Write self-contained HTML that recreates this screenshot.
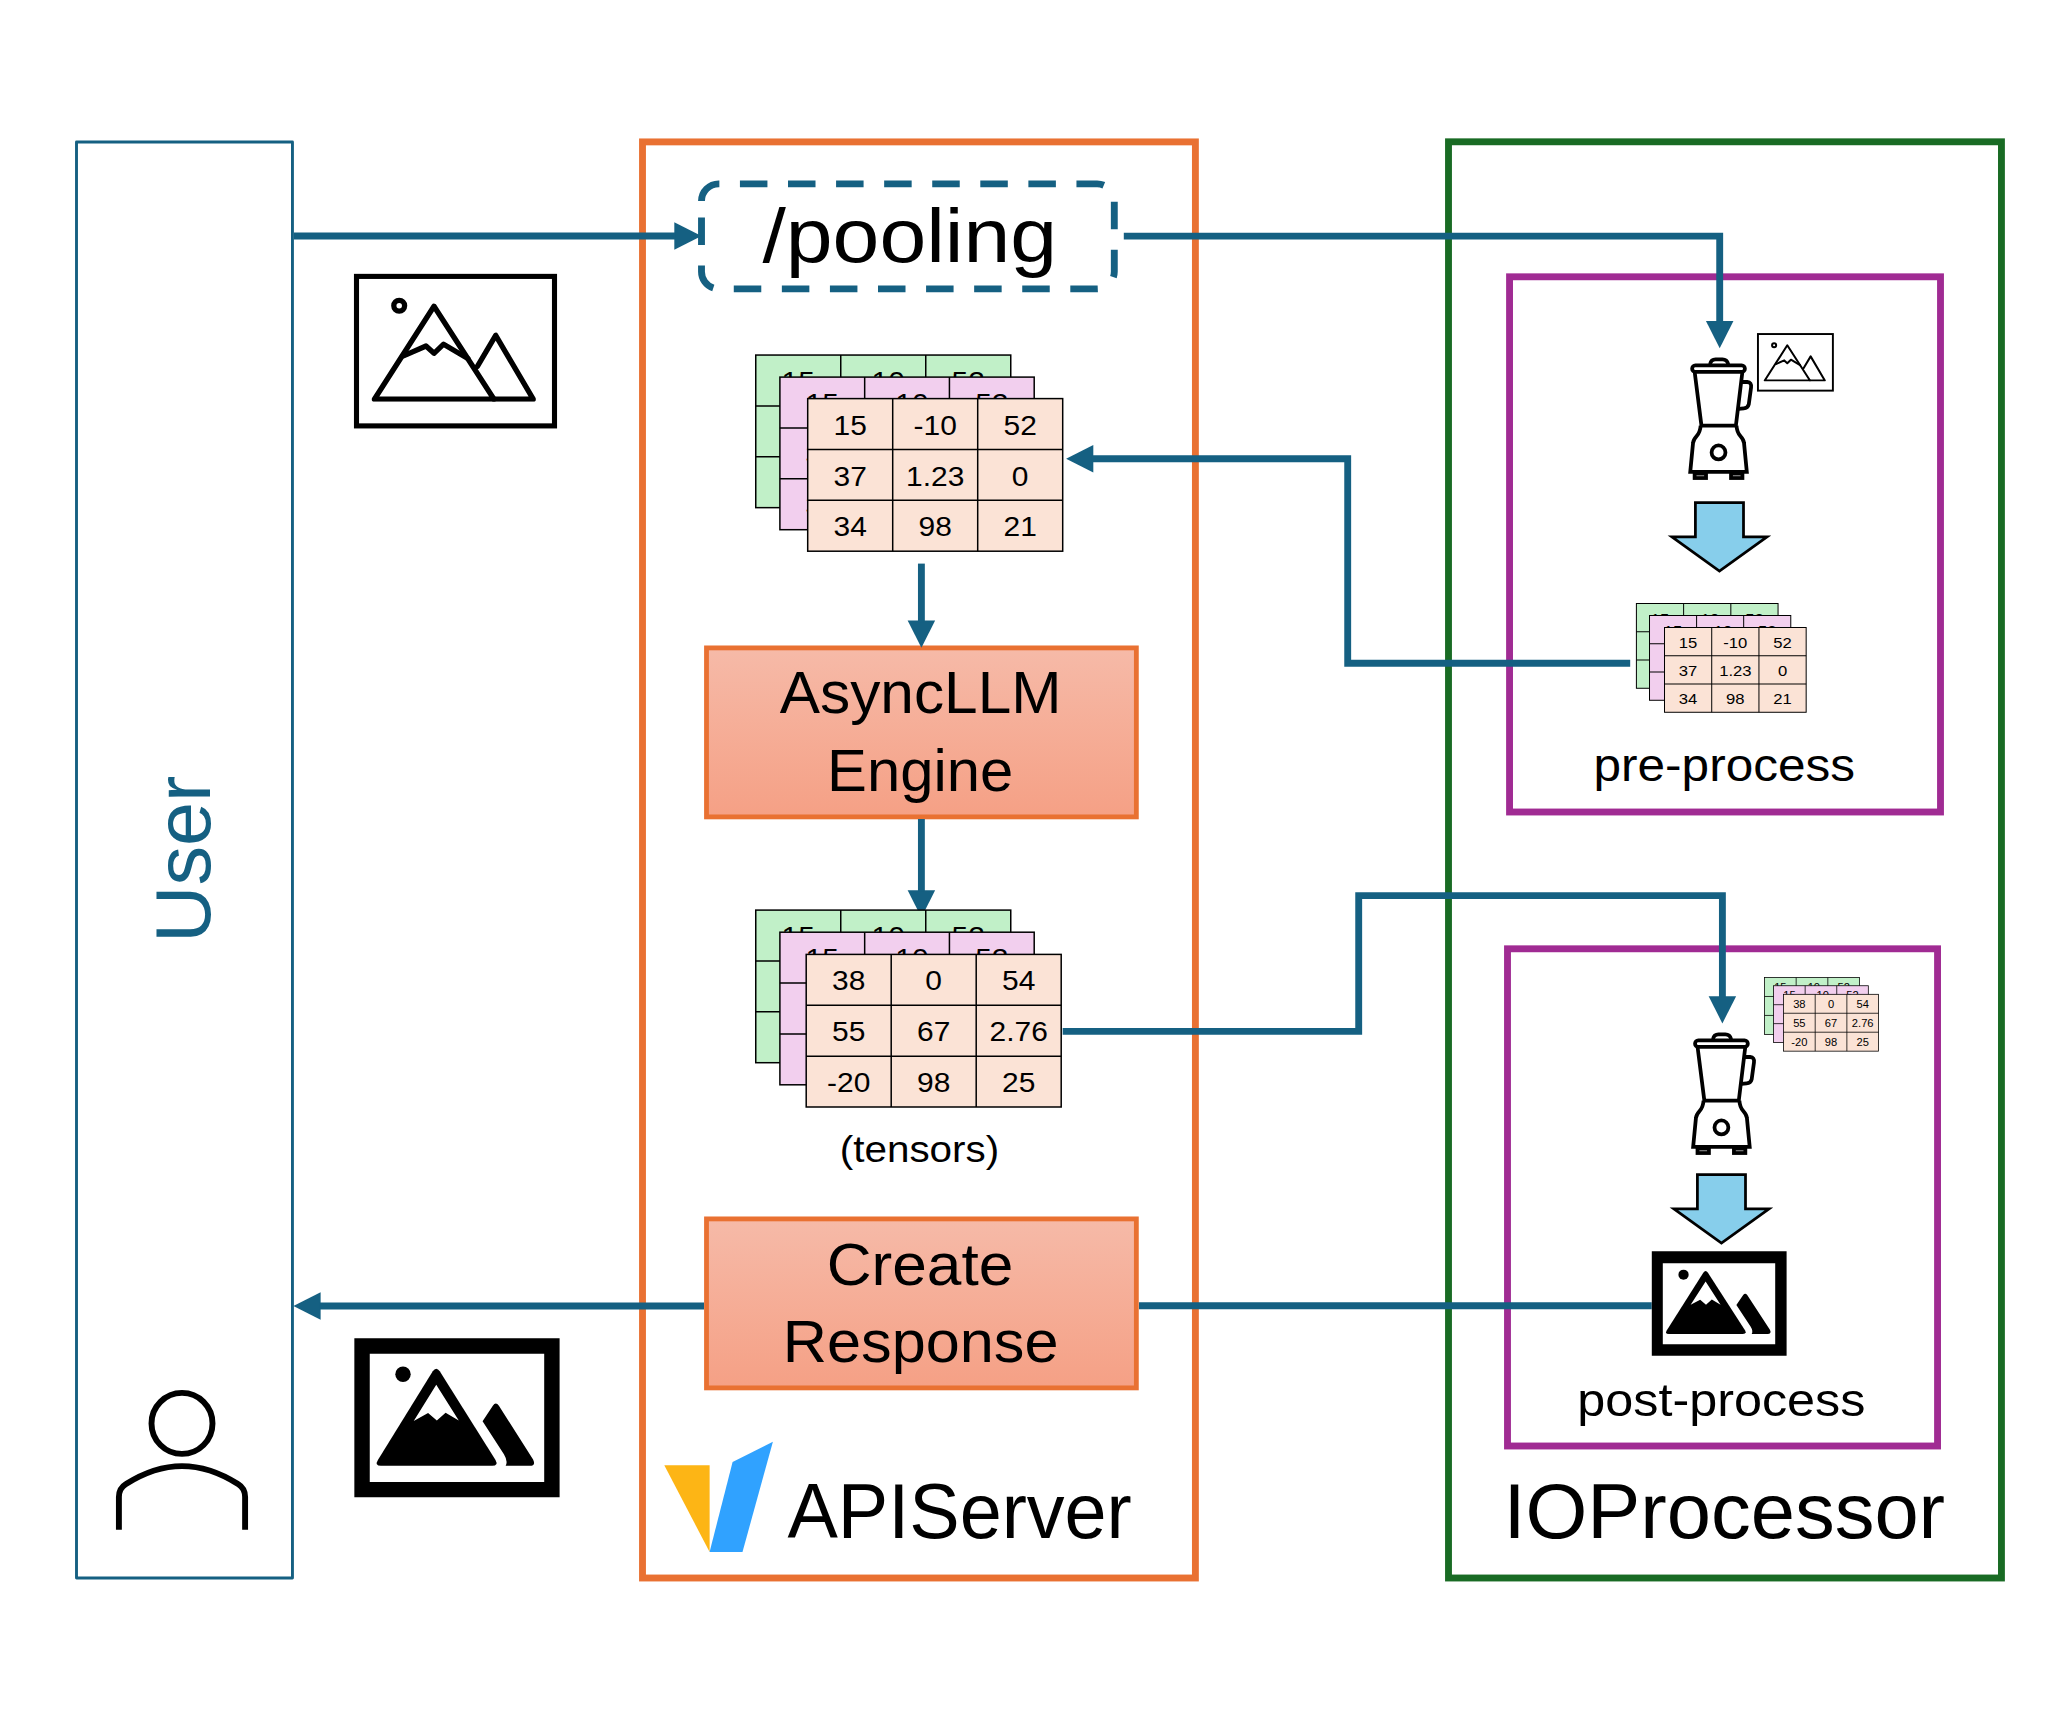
<!DOCTYPE html>
<html><head><meta charset="utf-8"><title>IOProcessor diagram</title>
<style>html,body{margin:0;padding:0;background:#fff}body{width:2057px;height:1714px;overflow:hidden}svg{display:block}text{font-family:"Liberation Sans",sans-serif}</style>
</head><body>
<svg width="2057" height="1714" viewBox="0 0 2057 1714">
<defs>
<linearGradient id="og" x1="0" y1="0" x2="0" y2="1"><stop offset="0" stop-color="#F6BAA8"/><stop offset="1" stop-color="#F5A085"/></linearGradient>
<clipPath id="picclip"><rect x="0" y="0" width="203" height="127.95"/></clipPath>
<g id="pic" fill="none" stroke="#000" stroke-width="5.3" stroke-linejoin="round" stroke-linecap="round"><rect x="2.5" y="2.5" width="198" height="149.5" stroke-width="5.1" stroke-linejoin="miter"/><circle cx="45.2" cy="31.9" r="5.4"/><g clip-path="url(#picclip)"><path d="M20.4 125.3L80 32.3L140 125.3Z"/><path d="M140 125.3H179.2L141.7 61.5L123.4 92.5"/></g><path d="M50.1 81.8L72 72.1L80 79.4L89.6 70.3L113.8 84.6"/></g>
<g id="picfc"><circle cx="540" cy="465" r="66"/><path d="M350 1250Q295 1250 325 1200L795 440Q825 395 855 440L1333 1200Q1360 1250 1305 1250Z"/><path fill="#fff" d="M825 555L632 865L755 797L830 862L905 795L1018 862Z"/><path d="M1310 735Q1335 698 1362 735L1655 1195Q1682 1250 1625 1250L1420 1250Q1442 1210 1405 1150L1222 868Z"/></g>
<g id="blender" fill="none" stroke="#000" stroke-width="38" stroke-linejoin="round"><path d="M505 445Q515 398 560 398L630 398Q675 398 688 445"/><rect x="324" y="458" width="532" height="66" rx="33" fill="#fff"/><path d="M350 528L418 1065L765 1065L830 528"/><path d="M822 625L880 625Q925 628 918 680L895 850Q885 890 845 890L790 897"/><path d="M410 1065Q405 1130 370 1170Q335 1210 333 1240L305 1530L875 1530L847 1240Q845 1210 810 1170Q775 1130 771 1065" stroke-linejoin="miter"/><circle cx="590" cy="1335" r="70"/><rect x="349" y="1549" width="115" height="44" stroke-linejoin="miter"/><rect x="716" y="1549" width="115" height="44" stroke-linejoin="miter"/></g>
<path id="barrow" d="M1695.4 502.5H1743.5V536.8H1767L1719.45 571L1671.9 536.8H1695.4Z" fill="#87CEEB" stroke="#000" stroke-width="2.75" stroke-miterlimit="10"/>
</defs>
<rect x="76.5" y="142" width="215.95" height="1436" fill="none" stroke="#156082" stroke-width="2.9" stroke-linejoin="round"/>
<rect x="642.5" y="141.9" width="552.9" height="1436.1" fill="none" stroke="#E97132" stroke-width="6.875"/>
<rect x="1509.55" y="276.8" width="430.95" height="535.2" fill="none" stroke="#A02B93" stroke-width="6.875"/>
<rect x="1507.5" y="948.8" width="430.05" height="497.2" fill="none" stroke="#A02B93" stroke-width="6.875"/>
<rect x="1448.5" y="141.8" width="552.95" height="1436.2" fill="none" stroke="#196B24" stroke-width="6.875"/>
<path d="M701.5 201.1A17.2 17.2 0 0 1 718.7 183.9H1097.1A17.2 17.2 0 0 1 1114.3 201.1V271.7A17.2 17.2 0 0 1 1097.1 288.9H718.7A17.2 17.2 0 0 1 701.5 271.7Z" fill="none" stroke="#156082" stroke-width="6.875" stroke-dasharray="27.5 20.575"/>
<rect x="706.5" y="647.9" width="429.85" height="169" fill="url(#og)" stroke="#E97132" stroke-width="4.8125"/>
<rect x="706.5" y="1218.9" width="429.85" height="169" fill="url(#og)" stroke="#E97132" stroke-width="4.8125"/>
<polygon points="701.50,236.00 674.30,249.75 674.30,222.25" fill="#156082"/>
<polyline points="293.90,236.00 675.80,236.00" fill="none" stroke="#156082" stroke-width="6.875" stroke-linejoin="miter"/>
<polygon points="1719.70,348.20 1705.95,321.00 1733.45,321.00" fill="#156082"/>
<polyline points="1123.80,236.10 1719.70,236.10 1719.70,322.50" fill="none" stroke="#156082" stroke-width="6.875" stroke-linejoin="miter"/>
<polygon points="1066.10,458.80 1093.30,445.05 1093.30,472.55" fill="#156082"/>
<polyline points="1630.20,663.20 1347.70,663.20 1347.70,458.80 1091.80,458.80" fill="none" stroke="#156082" stroke-width="6.875" stroke-linejoin="miter"/>
<polygon points="921.40,647.80 907.65,620.60 935.15,620.60" fill="#156082"/>
<polyline points="921.40,563.60 921.40,622.10" fill="none" stroke="#156082" stroke-width="6.875" stroke-linejoin="miter"/>
<polygon points="921.40,917.50 907.65,890.30 935.15,890.30" fill="#156082"/>
<polyline points="921.40,819.00 921.40,891.80" fill="none" stroke="#156082" stroke-width="6.875" stroke-linejoin="miter"/>
<polygon points="1722.40,1023.40 1708.65,996.20 1736.15,996.20" fill="#156082"/>
<polyline points="1062.70,1031.40 1358.70,1031.40 1358.70,895.60 1722.40,895.60 1722.40,997.70" fill="none" stroke="#156082" stroke-width="6.875" stroke-linejoin="miter"/>
<polyline points="1651.70,1305.70 1139.00,1305.70" fill="none" stroke="#156082" stroke-width="6.875" stroke-linejoin="miter"/>
<polygon points="293.40,1306.00 320.60,1292.25 320.60,1319.75" fill="#156082"/>
<polyline points="704.00,1306.00 319.10,1306.00" fill="none" stroke="#156082" stroke-width="6.875" stroke-linejoin="miter"/>
<g transform="translate(755.75,355.05) scale(1.0)">
<g transform="translate(0.00,0.00)">
<rect x="0" y="0" width="255.0" height="152.6" fill="#C1F0C8" stroke="#000" stroke-width="1.5"/>
<path d="M85.00 0V152.6M170.00 0V152.6M0 50.87H255.0M0 101.73H255.0" stroke="#000" stroke-width="1.5" fill="none"/>
<text transform="translate(42.50,36.10) scale(1.07,1)" font-size="28" text-anchor="middle">15</text>
<text transform="translate(127.50,36.10) scale(1.07,1)" font-size="28" text-anchor="middle">-10</text>
<text transform="translate(212.50,36.10) scale(1.07,1)" font-size="28" text-anchor="middle">52</text>
<text transform="translate(42.50,86.97) scale(1.07,1)" font-size="28" text-anchor="middle">37</text>
<text transform="translate(127.50,86.97) scale(1.07,1)" font-size="28" text-anchor="middle">1.23</text>
<text transform="translate(212.50,86.97) scale(1.07,1)" font-size="28" text-anchor="middle">0</text>
<text transform="translate(42.50,137.83) scale(1.07,1)" font-size="28" text-anchor="middle">34</text>
<text transform="translate(127.50,137.83) scale(1.07,1)" font-size="28" text-anchor="middle">98</text>
<text transform="translate(212.50,137.83) scale(1.07,1)" font-size="28" text-anchor="middle">21</text>
</g>
<g transform="translate(24.15,22.05)">
<rect x="0" y="0" width="254.3" height="152.6" fill="#F2CFEE" stroke="#000" stroke-width="1.5"/>
<path d="M84.77 0V152.6M169.53 0V152.6M0 50.87H254.3M0 101.73H254.3" stroke="#000" stroke-width="1.5" fill="none"/>
<text transform="translate(42.38,36.10) scale(1.07,1)" font-size="28" text-anchor="middle">15</text>
<text transform="translate(127.15,36.10) scale(1.07,1)" font-size="28" text-anchor="middle">-10</text>
<text transform="translate(211.92,36.10) scale(1.07,1)" font-size="28" text-anchor="middle">52</text>
<text transform="translate(42.38,86.97) scale(1.07,1)" font-size="28" text-anchor="middle">37</text>
<text transform="translate(127.15,86.97) scale(1.07,1)" font-size="28" text-anchor="middle">1.23</text>
<text transform="translate(211.92,86.97) scale(1.07,1)" font-size="28" text-anchor="middle">0</text>
<text transform="translate(42.38,137.83) scale(1.07,1)" font-size="28" text-anchor="middle">34</text>
<text transform="translate(127.15,137.83) scale(1.07,1)" font-size="28" text-anchor="middle">98</text>
<text transform="translate(211.92,137.83) scale(1.07,1)" font-size="28" text-anchor="middle">21</text>
</g>
<g transform="translate(51.95,43.55)">
<rect x="0" y="0" width="255.0" height="152.6" fill="#FBE3D6" stroke="#000" stroke-width="1.5"/>
<path d="M85.00 0V152.6M170.00 0V152.6M0 50.87H255.0M0 101.73H255.0" stroke="#000" stroke-width="1.5" fill="none"/>
<text transform="translate(42.50,36.10) scale(1.07,1)" font-size="28" text-anchor="middle">15</text>
<text transform="translate(127.50,36.10) scale(1.07,1)" font-size="28" text-anchor="middle">-10</text>
<text transform="translate(212.50,36.10) scale(1.07,1)" font-size="28" text-anchor="middle">52</text>
<text transform="translate(42.50,86.97) scale(1.07,1)" font-size="28" text-anchor="middle">37</text>
<text transform="translate(127.50,86.97) scale(1.07,1)" font-size="28" text-anchor="middle">1.23</text>
<text transform="translate(212.50,86.97) scale(1.07,1)" font-size="28" text-anchor="middle">0</text>
<text transform="translate(42.50,137.83) scale(1.07,1)" font-size="28" text-anchor="middle">34</text>
<text transform="translate(127.50,137.83) scale(1.07,1)" font-size="28" text-anchor="middle">98</text>
<text transform="translate(212.50,137.83) scale(1.07,1)" font-size="28" text-anchor="middle">21</text>
</g>
</g>
<g transform="translate(755.75,910.10) scale(1.0)">
<g transform="translate(0.00,0.00)">
<rect x="0" y="0" width="255.0" height="152.6" fill="#C1F0C8" stroke="#000" stroke-width="1.5"/>
<path d="M85.00 0V152.6M170.00 0V152.6M0 50.87H255.0M0 101.73H255.0" stroke="#000" stroke-width="1.5" fill="none"/>
<text transform="translate(42.50,36.10) scale(1.07,1)" font-size="28" text-anchor="middle">15</text>
<text transform="translate(127.50,36.10) scale(1.07,1)" font-size="28" text-anchor="middle">-10</text>
<text transform="translate(212.50,36.10) scale(1.07,1)" font-size="28" text-anchor="middle">52</text>
<text transform="translate(42.50,86.97) scale(1.07,1)" font-size="28" text-anchor="middle">37</text>
<text transform="translate(127.50,86.97) scale(1.07,1)" font-size="28" text-anchor="middle">1.23</text>
<text transform="translate(212.50,86.97) scale(1.07,1)" font-size="28" text-anchor="middle">0</text>
<text transform="translate(42.50,137.83) scale(1.07,1)" font-size="28" text-anchor="middle">34</text>
<text transform="translate(127.50,137.83) scale(1.07,1)" font-size="28" text-anchor="middle">98</text>
<text transform="translate(212.50,137.83) scale(1.07,1)" font-size="28" text-anchor="middle">21</text>
</g>
<g transform="translate(24.15,22.10)">
<rect x="0" y="0" width="254.3" height="152.6" fill="#F2CFEE" stroke="#000" stroke-width="1.5"/>
<path d="M84.77 0V152.6M169.53 0V152.6M0 50.87H254.3M0 101.73H254.3" stroke="#000" stroke-width="1.5" fill="none"/>
<text transform="translate(42.38,36.10) scale(1.07,1)" font-size="28" text-anchor="middle">15</text>
<text transform="translate(127.15,36.10) scale(1.07,1)" font-size="28" text-anchor="middle">-10</text>
<text transform="translate(211.92,36.10) scale(1.07,1)" font-size="28" text-anchor="middle">52</text>
<text transform="translate(42.38,86.97) scale(1.07,1)" font-size="28" text-anchor="middle">37</text>
<text transform="translate(127.15,86.97) scale(1.07,1)" font-size="28" text-anchor="middle">1.23</text>
<text transform="translate(211.92,86.97) scale(1.07,1)" font-size="28" text-anchor="middle">0</text>
<text transform="translate(42.38,137.83) scale(1.07,1)" font-size="28" text-anchor="middle">34</text>
<text transform="translate(127.15,137.83) scale(1.07,1)" font-size="28" text-anchor="middle">98</text>
<text transform="translate(211.92,137.83) scale(1.07,1)" font-size="28" text-anchor="middle">21</text>
</g>
<g transform="translate(50.45,44.30)">
<rect x="0" y="0" width="255.0" height="152.6" fill="#FBE3D6" stroke="#000" stroke-width="1.5"/>
<path d="M85.00 0V152.6M170.00 0V152.6M0 50.87H255.0M0 101.73H255.0" stroke="#000" stroke-width="1.5" fill="none"/>
<text transform="translate(42.50,36.10) scale(1.07,1)" font-size="28" text-anchor="middle">38</text>
<text transform="translate(127.50,36.10) scale(1.07,1)" font-size="28" text-anchor="middle">0</text>
<text transform="translate(212.50,36.10) scale(1.07,1)" font-size="28" text-anchor="middle">54</text>
<text transform="translate(42.50,86.97) scale(1.07,1)" font-size="28" text-anchor="middle">55</text>
<text transform="translate(127.50,86.97) scale(1.07,1)" font-size="28" text-anchor="middle">67</text>
<text transform="translate(212.50,86.97) scale(1.07,1)" font-size="28" text-anchor="middle">2.76</text>
<text transform="translate(42.50,137.83) scale(1.07,1)" font-size="28" text-anchor="middle">-20</text>
<text transform="translate(127.50,137.83) scale(1.07,1)" font-size="28" text-anchor="middle">98</text>
<text transform="translate(212.50,137.83) scale(1.07,1)" font-size="28" text-anchor="middle">25</text>
</g>
</g>
<g transform="translate(1636.40,603.50) scale(0.5555)">
<g transform="translate(0.00,0.00)">
<rect x="0" y="0" width="255.0" height="152.6" fill="#C1F0C8" stroke="#000" stroke-width="1.8"/>
<path d="M85.00 0V152.6M170.00 0V152.6M0 50.87H255.0M0 101.73H255.0" stroke="#000" stroke-width="1.8" fill="none"/>
<text transform="translate(42.50,36.10) scale(1.07,1)" font-size="28" text-anchor="middle">15</text>
<text transform="translate(127.50,36.10) scale(1.07,1)" font-size="28" text-anchor="middle">-10</text>
<text transform="translate(212.50,36.10) scale(1.07,1)" font-size="28" text-anchor="middle">52</text>
<text transform="translate(42.50,86.97) scale(1.07,1)" font-size="28" text-anchor="middle">37</text>
<text transform="translate(127.50,86.97) scale(1.07,1)" font-size="28" text-anchor="middle">1.23</text>
<text transform="translate(212.50,86.97) scale(1.07,1)" font-size="28" text-anchor="middle">0</text>
<text transform="translate(42.50,137.83) scale(1.07,1)" font-size="28" text-anchor="middle">34</text>
<text transform="translate(127.50,137.83) scale(1.07,1)" font-size="28" text-anchor="middle">98</text>
<text transform="translate(212.50,137.83) scale(1.07,1)" font-size="28" text-anchor="middle">21</text>
</g>
<g transform="translate(23.60,21.60)">
<rect x="0" y="0" width="254.3" height="152.6" fill="#F2CFEE" stroke="#000" stroke-width="1.8"/>
<path d="M84.77 0V152.6M169.53 0V152.6M0 50.87H254.3M0 101.73H254.3" stroke="#000" stroke-width="1.8" fill="none"/>
<text transform="translate(42.38,36.10) scale(1.07,1)" font-size="28" text-anchor="middle">15</text>
<text transform="translate(127.15,36.10) scale(1.07,1)" font-size="28" text-anchor="middle">-10</text>
<text transform="translate(211.92,36.10) scale(1.07,1)" font-size="28" text-anchor="middle">52</text>
<text transform="translate(42.38,86.97) scale(1.07,1)" font-size="28" text-anchor="middle">37</text>
<text transform="translate(127.15,86.97) scale(1.07,1)" font-size="28" text-anchor="middle">1.23</text>
<text transform="translate(211.92,86.97) scale(1.07,1)" font-size="28" text-anchor="middle">0</text>
<text transform="translate(42.38,137.83) scale(1.07,1)" font-size="28" text-anchor="middle">34</text>
<text transform="translate(127.15,137.83) scale(1.07,1)" font-size="28" text-anchor="middle">98</text>
<text transform="translate(211.92,137.83) scale(1.07,1)" font-size="28" text-anchor="middle">21</text>
</g>
<g transform="translate(50.60,43.20)">
<rect x="0" y="0" width="255.0" height="152.6" fill="#FBE3D6" stroke="#000" stroke-width="1.8"/>
<path d="M85.00 0V152.6M170.00 0V152.6M0 50.87H255.0M0 101.73H255.0" stroke="#000" stroke-width="1.8" fill="none"/>
<text transform="translate(42.50,36.10) scale(1.07,1)" font-size="28" text-anchor="middle">15</text>
<text transform="translate(127.50,36.10) scale(1.07,1)" font-size="28" text-anchor="middle">-10</text>
<text transform="translate(212.50,36.10) scale(1.07,1)" font-size="28" text-anchor="middle">52</text>
<text transform="translate(42.50,86.97) scale(1.07,1)" font-size="28" text-anchor="middle">37</text>
<text transform="translate(127.50,86.97) scale(1.07,1)" font-size="28" text-anchor="middle">1.23</text>
<text transform="translate(212.50,86.97) scale(1.07,1)" font-size="28" text-anchor="middle">0</text>
<text transform="translate(42.50,137.83) scale(1.07,1)" font-size="28" text-anchor="middle">34</text>
<text transform="translate(127.50,137.83) scale(1.07,1)" font-size="28" text-anchor="middle">98</text>
<text transform="translate(212.50,137.83) scale(1.07,1)" font-size="28" text-anchor="middle">21</text>
</g>
</g>
<g transform="translate(1764.50,977.55) scale(0.3725)">
<g transform="translate(0.00,0.00)">
<rect x="0" y="0" width="255.0" height="152.6" fill="#C1F0C8" stroke="#000" stroke-width="2.1"/>
<path d="M85.00 0V152.6M170.00 0V152.6M0 50.87H255.0M0 101.73H255.0" stroke="#000" stroke-width="2.1" fill="none"/>
<text transform="translate(42.50,36.10) scale(1.07,1)" font-size="28" text-anchor="middle">15</text>
<text transform="translate(127.50,36.10) scale(1.07,1)" font-size="28" text-anchor="middle">-10</text>
<text transform="translate(212.50,36.10) scale(1.07,1)" font-size="28" text-anchor="middle">52</text>
<text transform="translate(42.50,86.97) scale(1.07,1)" font-size="28" text-anchor="middle">37</text>
<text transform="translate(127.50,86.97) scale(1.07,1)" font-size="28" text-anchor="middle">1.23</text>
<text transform="translate(212.50,86.97) scale(1.07,1)" font-size="28" text-anchor="middle">0</text>
<text transform="translate(42.50,137.83) scale(1.07,1)" font-size="28" text-anchor="middle">34</text>
<text transform="translate(127.50,137.83) scale(1.07,1)" font-size="28" text-anchor="middle">98</text>
<text transform="translate(212.50,137.83) scale(1.07,1)" font-size="28" text-anchor="middle">21</text>
</g>
<g transform="translate(24.40,22.00)">
<rect x="0" y="0" width="254.3" height="152.6" fill="#F2CFEE" stroke="#000" stroke-width="2.1"/>
<path d="M84.77 0V152.6M169.53 0V152.6M0 50.87H254.3M0 101.73H254.3" stroke="#000" stroke-width="2.1" fill="none"/>
<text transform="translate(42.38,36.10) scale(1.07,1)" font-size="28" text-anchor="middle">15</text>
<text transform="translate(127.15,36.10) scale(1.07,1)" font-size="28" text-anchor="middle">-10</text>
<text transform="translate(211.92,36.10) scale(1.07,1)" font-size="28" text-anchor="middle">52</text>
<text transform="translate(42.38,86.97) scale(1.07,1)" font-size="28" text-anchor="middle">37</text>
<text transform="translate(127.15,86.97) scale(1.07,1)" font-size="28" text-anchor="middle">1.23</text>
<text transform="translate(211.92,86.97) scale(1.07,1)" font-size="28" text-anchor="middle">0</text>
<text transform="translate(42.38,137.83) scale(1.07,1)" font-size="28" text-anchor="middle">34</text>
<text transform="translate(127.15,137.83) scale(1.07,1)" font-size="28" text-anchor="middle">98</text>
<text transform="translate(211.92,137.83) scale(1.07,1)" font-size="28" text-anchor="middle">21</text>
</g>
<g transform="translate(51.10,45.00)">
<rect x="0" y="0" width="255.0" height="152.6" fill="#FBE3D6" stroke="#000" stroke-width="2.1"/>
<path d="M85.00 0V152.6M170.00 0V152.6M0 50.87H255.0M0 101.73H255.0" stroke="#000" stroke-width="2.1" fill="none"/>
<text transform="translate(42.50,36.10) scale(1.07,1)" font-size="28" text-anchor="middle">38</text>
<text transform="translate(127.50,36.10) scale(1.07,1)" font-size="28" text-anchor="middle">0</text>
<text transform="translate(212.50,36.10) scale(1.07,1)" font-size="28" text-anchor="middle">54</text>
<text transform="translate(42.50,86.97) scale(1.07,1)" font-size="28" text-anchor="middle">55</text>
<text transform="translate(127.50,86.97) scale(1.07,1)" font-size="28" text-anchor="middle">67</text>
<text transform="translate(212.50,86.97) scale(1.07,1)" font-size="28" text-anchor="middle">2.76</text>
<text transform="translate(42.50,137.83) scale(1.07,1)" font-size="28" text-anchor="middle">-20</text>
<text transform="translate(127.50,137.83) scale(1.07,1)" font-size="28" text-anchor="middle">98</text>
<text transform="translate(212.50,137.83) scale(1.07,1)" font-size="28" text-anchor="middle">25</text>
</g>
</g>
<use href="#pic" transform="translate(354,273.9)"/>
<use href="#pic" transform="translate(1757,333.1) scale(0.3785)"/>
<path fill-rule="evenodd" d="M354.35 1338.3H559.6V1497.3H354.35ZM369.75 1353.8V1481.9H544.2V1353.8Z"/>
<use href="#picfc" transform="translate(340,1320) scale(0.11667)"/>
<path fill-rule="evenodd" d="M1651.8 1251.3H1786.6V1355.8H1651.8ZM1662.8 1263.2V1344.2H1775.2V1263.2Z"/>
<use href="#picfc" transform="translate(1641.7,1239.5) scale(0.07747,0.07557)"/>
<use href="#blender" transform="translate(1660,320) scale(0.0992)"/>
<use href="#blender" transform="translate(1662.9,995) scale(0.0992)"/>
<use href="#barrow"/>
<use href="#barrow" transform="translate(2.0,672.0)"/>
<g fill="none" stroke="#000" stroke-width="5.9"><circle cx="182" cy="1423.4" r="30.5"/><path d="M118.9 1529.8V1497C118.9 1491 121 1487 126 1484C145 1472 163 1466.1 182 1466.1C201 1466.1 219 1472 238 1484C243 1487 245.1 1491 245.1 1497V1529.8"/></g>
<polygon points="664.3,1465.3 709.6,1465.3 709.6,1551.9" fill="#FDB515"/>
<polygon points="772.9,1441.7 732.6,1462.1 709.6,1551.9 742.5,1551.9" fill="#30A2FF"/>
<text transform="translate(762.40,261.90) scale(1.1074,1)" font-size="76" fill="#000" >/pooling</text>
<text transform="translate(779.78,713.30) scale(1.0059,1)" font-size="60" fill="#000" >AsyncLLM</text>
<text transform="translate(827.10,790.60) scale(0.9964,1)" font-size="60" fill="#000" >Engine</text>
<text transform="translate(839.74,1161.80) scale(1.0721,1)" font-size="37.7" fill="#000" >(tensors)</text>
<text transform="translate(826.64,1284.80) scale(1.0368,1)" font-size="60" fill="#000" >Create</text>
<text transform="translate(782.78,1362.10) scale(1.0206,1)" font-size="60" fill="#000" >Response</text>
<text transform="translate(787.45,1537.80) scale(0.9689,1)" font-size="78" fill="#000" >APIServer</text>
<text transform="translate(1503.41,1538.00) scale(1.0190,1)" font-size="78" fill="#000" >IOProcessor</text>
<text transform="translate(1593.51,780.80) scale(1.0775,1)" font-size="46" fill="#000" >pre-process</text>
<text transform="translate(1577.25,1415.80) scale(1.0947,1)" font-size="46" fill="#000" >post-process</text>
<text transform="translate(210.1,942.71) rotate(-90) scale(1.0148,1)" font-size="78" fill="#156082">User</text>
</svg></body></html>
